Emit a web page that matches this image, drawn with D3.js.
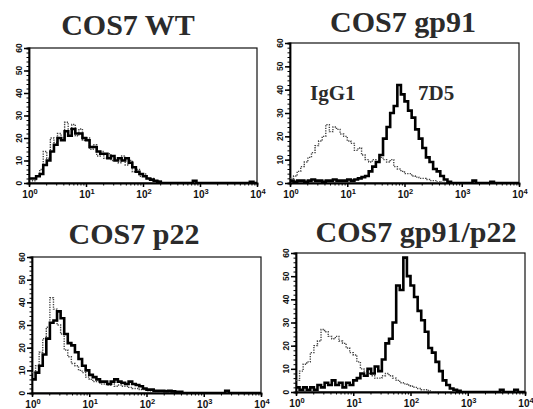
<!DOCTYPE html>
<html>
<head>
<meta charset="UTF-8">
<title>COS7 flow cytometry</title>
<script src="https://d3js.org/d3.v7.min.js"></script>
<style>
  body { margin: 0; background: #fff; }
  svg { display: block; }
  .title { font-family: "Liberation Serif", "Times New Roman", serif; font-weight: bold; fill: #2b2b2b; }
  .tick-lbl { font-family: "Liberation Sans", Arial, sans-serif; font-weight: bold; fill: #111; }
</style>
</head>
<body>
<svg id="chart" width="533" height="409"></svg>
<script>
// panel titles and axis ticks
const titles = ["COS7 WT", "COS7 gp91", "COS7 p22", "COS7 gp91/p22"];
const yTicks = [0, 10, 20, 30, 40, 50, 60];
const xDecades = [0, 1, 2, 3, 4];

// histogram counts, 16 channels per decade from 10^0 to 10^4
const wtIgG = [2,1,3,6,14,11,20,18,22,20,27,24,26,21,24,19,20,15,17,12,14,11,13,10,11,9,12,8,10,5,6,3,4,2,2,1,1,0,0,0,0,0,0,0,0,0,0,0,0,0,0,0,0,0,0,0,0,0,0,0,0,0,0,0];
const wtStain = [2,2,3,4,8,10,14,17,20,19,23,21,24,22,22,20,19,16,16,14,13,13,11,12,10,11,10,11,9,7,5,4,3,2,1.5,1,0.5,0,0,0,0,0,0,0,0,0,1,0,0,0,0,0,0,0,0,0,0,0,0,0,0,0,0.5,0];
const gp91IgG = [2,3,5,7,9,11,13,16,18,20,25,22,24,23,21,20,18,17,14,15,12,10,9,10,9,11,10,9,10,7,6,5,4,4,3,2.5,2,2,1.5,1,1,0.5,0.3,0,0,0,0,0,0,0,0,0,0,0,0,0,0,0,0,0,0,0,0,0];
const gp91Stain = [1,0.5,1,1,0.5,1,1.5,1,1,0.5,1,1,1.5,1,1,1,1.5,1,1.5,2,2.5,3,5,7,9,12,19,24,30,33,42,38,35,31,28,23,19,15,11,9,6,5,3,1.5,0.5,0,0,0,0,0,0,1,0,0,0,0,0.5,0,0,0,0,0,0,0];
const p22IgG = [9,12,18,24,29,42,37,30,26,19,16,13,12,10,9,7,6,5,5,4,4,3.5,4,3,3.5,3,3,2.5,2,2,1.5,1.5,1,1,0.5,0.5,0,0,0,0,0,0,0,0,0,0,0,0,0,0,0,0,0,0,0,0,0,0,0,0,0,0,0,0];
const p22Stain = [6,9,12,17,24,31,32,36,33,26,22,21,18,15,12,10,8,7,6,5,5,4,5,6,5,4.5,4,5,4,3.5,3,2,1.5,1.5,1,1,1,0.8,1,0.7,0.5,0.5,0,0,0,0,0,0,0,0,0,0,0,0,1,0,0,0,0,0,0,0,0,0];
const dualIgG = [5,9,12,13,17,20,22,27,26,24,23,24,22,21,19,17,16,13,10,9,8,7,6,6,7,8,7,6,5,4,3.5,3,2.5,2,1.5,1,1,0.5,0,0,0,0,0,0,0,0,0,0,0,0,0,0,0,0,0,0,0,0,0,0,0,0,0,0];
const dualStain = [2,1,2,1,2,1,3,2,4,3,5,3,4,2,4,3,5,6,8,7,10,8,11,9,14,21,23,30,46,44,58,50,46,41,35,31,26,19,17,13,9,5,3,1.5,1,0.5,0,0,0,0,0,0,0,0,0,0,0,1,0,0,0,1,0,0];

const controls = [wtIgG, gp91IgG, p22IgG, dualIgG];
const stains = [wtStain, gp91Stain, p22Stain, dualStain];

// frame geometry of each panel
const layout = [
  { l: 29,  r: 257, t: 48,  b: 183, tx: 128, ty: 35 },
  { l: 290, r: 519, t: 43,  b: 183, tx: 403, ty: 32 },
  { l: 32,  r: 261, t: 257, b: 393, tx: 134, ty: 244 },
  { l: 296, r: 525, t: 253, b: 392, tx: 416, ty: 242 }
];

const svg = d3.select('#chart');

function histLine(values, x, y) {
  const n = values.length;
  const pts = values.map((v, i) => [Math.pow(10, i * 4 / n), v]);
  pts.push([1e4, values[n - 1]]);
  return d3.line()
    .x(d => x(d[0]))
    .y(d => y(d[1]))
    .curve(d3.curveStepAfter)(pts);
}

layout.forEach((p, k) => {
  const g = svg.append('g');
  const x = d3.scaleLog().domain([1, 1e4]).range([p.l, p.r]);
  const y = d3.scaleLinear().domain([0, 60]).range([p.b, p.t]);

  g.append('text')
    .attr('class', 'title')
    .attr('x', p.tx).attr('y', p.ty)
    .attr('text-anchor', 'middle')
    .style('font-size', '30px')
    .text(titles[k]);

  const clipId = 'clip' + k;
  g.append('clipPath').attr('id', clipId)
    .append('rect')
    .attr('x', p.l).attr('y', p.t - 2)
    .attr('width', p.r - p.l).attr('height', p.b - p.t + 2);

  // frame
  g.append('rect')
    .attr('x', p.l).attr('y', p.t)
    .attr('width', p.r - p.l).attr('height', p.b - p.t)
    .attr('fill', 'none').attr('stroke', '#111').attr('stroke-width', 1.2);

  // y axis: minor + major ticks
  g.append('g')
    .attr('transform', `translate(${p.l},0)`)
    .call(d3.axisLeft(y).tickValues(d3.range(0, 61, 2)).tickSize(2.5).tickFormat(''))
    .call(a => a.select('.domain').attr('stroke-width', 1.8));
  g.append('g')
    .attr('transform', `translate(${p.l},0)`)
    .call(d3.axisLeft(y).tickValues(yTicks).tickSize(5).tickFormat(''))
    .call(a => a.select('.domain').remove())
    .call(a => a.selectAll('line').attr('stroke-width', 1.5));
  yTicks.forEach(v => {
    const tx = p.l - 10, ty = y(v);
    g.append('text')
      .attr('class', 'tick-lbl')
      .attr('x', tx).attr('y', ty)
      .attr('dy', '0.35em')
      .attr('text-anchor', 'middle')
      .attr('transform', `rotate(-90,${tx},${ty})`)
      .style('font-size', '8.5px')
      .text(v);
  });

  // x axis: log minor + decade ticks
  const minor = [];
  for (let d = 0; d < 4; d++) for (let m = 2; m < 10; m++) minor.push(m * Math.pow(10, d));
  g.append('g')
    .attr('transform', `translate(0,${p.b})`)
    .call(d3.axisBottom(x).tickValues(minor).tickSize(2.5).tickFormat(''))
    .call(a => a.select('.domain').attr('stroke-width', 1.8));
  g.append('g')
    .attr('transform', `translate(0,${p.b})`)
    .call(d3.axisBottom(x).tickValues(xDecades.map(e => Math.pow(10, e))).tickSize(4).tickFormat(''))
    .call(a => a.select('.domain').remove())
    .call(a => a.selectAll('line').attr('stroke-width', 1.5));
  xDecades.forEach(e => {
    const t = g.append('text')
      .attr('class', 'tick-lbl')
      .attr('x', x(Math.pow(10, e)) + 1).attr('y', p.b + 15)
      .attr('text-anchor', 'middle')
      .style('font-size', '10px');
    t.append('tspan').text('10');
    t.append('tspan').attr('dy', '-4').style('font-size', '7.5px').text(e);
  });

  // histograms
  const plot = g.append('g').attr('clip-path', `url(#${clipId})`);
  plot.append('path')
    .attr('d', histLine(controls[k], x, y))
    .attr('fill', 'none')
    .attr('stroke', '#444')
    .attr('stroke-width', 1.4)
    .attr('stroke-dasharray', '1.3,1.2');
  plot.append('path')
    .attr('d', histLine(stains[k], x, y))
    .attr('fill', 'none')
    .attr('stroke', '#000')
    .attr('stroke-width', 2.6);

  if (k === 1) {
    g.append('text').attr('class', 'title')
      .attr('x', 310).attr('y', 100).style('font-size', '21px').text('IgG1');
    g.append('text').attr('class', 'title')
      .attr('x', 418).attr('y', 100).style('font-size', '21px').text('7D5');
  }
});
</script>
</body>
</html>
